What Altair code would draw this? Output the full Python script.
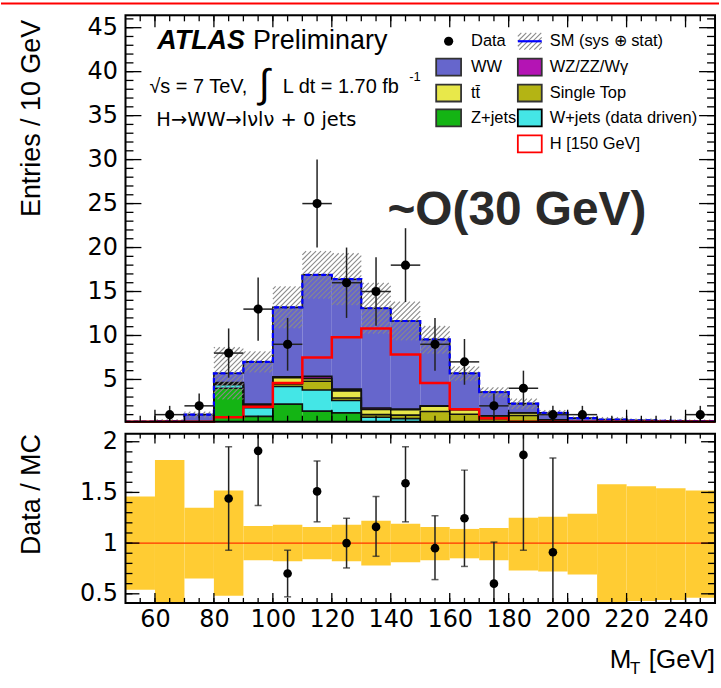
import altair as alt
import numpy as np
import pandas as pd

# ---------------- data ----------------
bin_lo = [50, 60, 70, 80, 90, 100, 110, 120, 130, 140, 150, 160, 170, 180, 190, 200, 210, 220, 230, 240]
BIN_W = 10

z_jets     = [0.00, 0.00, 0.05, 4.00, 0.80, 2.20, 1.40, 1.20, 0.10, 0.05, 0.00, 0.00, 0.00, 0.00, 0.00, 0.00, 0.00, 0.00, 0.00, 0.00]
w_jets     = [0.00, 0.00, 0.05, 0.40, 1.00, 2.00, 2.40, 1.40, 0.60, 0.50, 0.05, 0.05, 0.05, 0.00, 0.00, 0.00, 0.00, 0.00, 0.00, 0.00]
single_top = [0.00, 0.00, 0.00, 0.05, 0.10, 0.30, 1.00, 0.30, 0.30, 0.40, 1.30, 1.00, 0.50, 0.90, 0.30, 0.10, 0.00, 0.00, 0.00, 0.00]
ttbar      = [0.00, 0.00, 0.00, 0.10, 0.10, 0.70, 0.30, 0.80, 0.60, 0.60, 0.60, 0.50, 0.30, 0.30, 0.10, 0.05, 0.05, 0.02, 0.02, 0.02]
wz_zz_wg   = [0.00, 0.00, 0.02, 0.10, 0.20, 0.10, 0.25, 0.20, 0.15, 0.10, 0.05, 0.05, 0.02, 0.02, 0.02, 0.02, 0.02, 0.02, 0.02, 0.02]
ww         = [0.15, 0.25, 0.88, 1.05, 4.80, 7.90, 11.55, 12.50, 11.35, 10.00, 7.55, 4.10, 2.70, 1.03, 0.78, 0.43, 0.38, 0.31, 0.26, 0.24]
higgs      = [0.00, 0.00, 0.00, 0.70, 1.90, 4.60, 7.50, 9.80, 10.80, 7.85, 4.60, 1.60, 0.60, 0.10, 0.00, 0.00, 0.00, 0.00, 0.00, 0.00]

data_n     = [0, 1, 2, 8, 13, 9, 25, 16, 15, 18, 9, 7, 2, 4, 1, 1, 0, 0, 0, 1]
data_err   = [0, 1.0, 1.4, 2.8, 3.6, 3.0, 5.0, 4.0, 3.9, 4.2, 3.0, 2.6, 1.4, 2.0, 1.0, 1.0, 0, 0, 0, 1.0]

# relative MC uncertainty band (ratio panel)
band_hi = [1.46, 1.82, 1.35, 1.52, 1.17, 1.18, 1.16, 1.18, 1.22, 1.19, 1.16, 1.14, 1.15, 1.25, 1.26, 1.29, 1.58, 1.56, 1.54, 1.52]
band_lo = [0.54, 0.30, 0.65, 0.48, 0.83, 0.82, 0.84, 0.82, 0.78, 0.81, 0.83, 0.85, 0.83, 0.73, 0.72, 0.69, 0.41, 0.43, 0.44, 0.46]

ratio_x   = [85, 95, 105, 115, 125, 135, 145, 155, 165, 175, 185, 195]
ratio_val = [1.44, 1.91, 0.70, 1.51, 1.00, 1.16, 1.59, 0.95, 1.245, 0.60, 1.87, 0.91]
ratio_lo  = [0.93, 1.37, 0.47, 1.21, 0.755, 0.87, 1.21, 0.64, 0.77, 0.30, 0.93, 0.00]
ratio_hi  = [1.95, 2.50, 0.93, 1.81, 1.245, 1.46, 1.95, 1.27, 1.72, 1.01, 2.60, 1.84]

x_tick_labels = [60, 80, 100, 120, 140, 160, 180, 200, 220, 240]
y_tick_labels = [5, 10, 15, 20, 25, 30, 35, 40, 45]
r_tick_labels = [0.5, 1, 1.5, 2]

# ---------------- geometry / style ----------------
FONT = "Liberation Sans"
TICK_FONT = "DejaVu Sans"
W, H_TOP, H_RAT = 592, 408, 170
XDOM = [50, 250]
YDOM = [0.2, 46.4]
RDOM = [0.41, 2.08]

xs = alt.Scale(domain=XDOM, nice=False, zero=False)
ys = alt.Scale(domain=YDOM, nice=False, zero=False, clamp=True)
rs = alt.Scale(domain=RDOM, nice=False, zero=False)

comps = [
    ("Z+jets", z_jets, "#14B414"),
    ("W+jets (data driven)", w_jets, "#44E6E6"),
    ("Single Top", single_top, "#B4B414"),
    ("tt", ttbar, "#E8E84A"),
    ("WZ/ZZ/Wγ", wz_zz_wg, "#B414B4"),
    ("WW", ww, "#6666CC"),
]

# ---------------- tables ----------------
stack_rows, line_rows = [], []
cum = np.zeros(len(bin_lo))
for lvl, (name, vals, col) in enumerate(comps):
    for i, lo in enumerate(bin_lo):
        if vals[i] > 0:
            stack_rows.append(dict(x0=lo, x1=lo + BIN_W, y0=cum[i], y1=cum[i] + vals[i], comp=name))
    cum = cum + np.array(vals)
    for i, lo in enumerate(bin_lo):
        line_rows.append(dict(x=lo, y=cum[i], level=lvl))
    line_rows.append(dict(x=bin_lo[-1] + BIN_W, y=cum[-1], level=lvl))
totals = cum
stack_df = pd.DataFrame(stack_rows)
line_df = pd.DataFrame(line_rows)
total_df = line_df[line_df.level == len(comps) - 1]

h_df = pd.DataFrame(dict(x=bin_lo + [bin_lo[-1] + BIN_W], y=higgs + [higgs[-1]]))

# hatch of the SM uncertainty band, 45 degree lines in screen space
sx = W / (XDOM[1] - XDOM[0])
sy = H_TOP / (YDOM[1] - YDOM[0])
D = 5.0
hatch_rows = []
for i, lo in enumerate(bin_lo):
    ylo = max(totals[i] * band_lo[i], YDOM[0])
    yhi = min(totals[i] * band_hi[i], YDOM[1])
    if yhi <= ylo:
        continue
    X0, X1 = (lo - XDOM[0]) * sx, (lo + BIN_W - XDOM[0]) * sx
    Y0, Y1 = (ylo - YDOM[0]) * sy, (yhi - YDOM[0]) * sy
    for m in range(int(np.floor((Y0 - X1) / D)), int(np.ceil((Y1 - X0) / D)) + 1):
        k = m * D
        a, b = max(X0, Y0 - k), min(X1, Y1 - k)
        if b - a > 0.3:
            hatch_rows.append(dict(x=XDOM[0] + a / sx, y=YDOM[0] + (a + k) / sy,
                                   x2=XDOM[0] + b / sx, y2=YDOM[0] + (b + k) / sy))
hatch_df = pd.DataFrame(hatch_rows)

data_df = pd.DataFrame(dict(c=[lo + BIN_W / 2 for lo in bin_lo], l=bin_lo, r=[lo + BIN_W for lo in bin_lo],
                            n=data_n, e=data_err))
data_df = data_df[data_df.n > 0].copy()
data_df["lo"] = data_df.n - data_df.e
data_df["hi"] = data_df.n + data_df.e

band_df = pd.DataFrame(dict(x0=bin_lo, x1=[lo + BIN_W for lo in bin_lo], lo=band_lo, hi=band_hi))
ratio_df = pd.DataFrame(dict(x=ratio_x, v=ratio_val, lo=ratio_lo, hi=ratio_hi))

one = pd.DataFrame(dict(a=[0]))


# ---------------- helpers ----------------
def frame_layers(xscale, yscale, hp, xmaj, xmin, ymaj, ymin, xl, yl):
    """Inward ticks on all four sides plus the frame, drawn as rules."""
    out = []
    for vals, L in ((xmin, xl[1]), (xmaj, xl[0])):
        df = pd.DataFrame(dict(v=vals))
        xe = alt.X("v:Q", scale=xscale, axis=None)
        out.append(alt.Chart(df).mark_rule(color="black", strokeWidth=1.3).encode(
            x=xe, y=alt.value(hp), y2=alt.value(hp - L)))
        out.append(alt.Chart(df).mark_rule(color="black", strokeWidth=1.3).encode(
            x=xe, y=alt.value(0), y2=alt.value(L)))
    for vals, L in ((ymin, yl[1]), (ymaj, yl[0])):
        df = pd.DataFrame(dict(v=vals))
        ye = alt.Y("v:Q", scale=yscale, axis=None)
        out.append(alt.Chart(df).mark_rule(color="black", strokeWidth=1.3).encode(
            y=ye, x=alt.value(0), x2=alt.value(L)))
        out.append(alt.Chart(df).mark_rule(color="black", strokeWidth=1.3).encode(
            y=ye, x=alt.value(W), x2=alt.value(W - L)))
    out.append(alt.Chart(one).mark_rect(fillOpacity=0, stroke="black", strokeWidth=2).encode(
        x=alt.value(0), x2=alt.value(W), y=alt.value(0), y2=alt.value(hp)))
    return out


def px_text(df, font=FONT, **kw):
    return alt.Chart(df).mark_text(font=font, **kw).encode(
        x=alt.X("x:Q", scale=None, axis=None),
        y=alt.Y("y:Q", scale=None, axis=None),
        size=alt.Size("s:Q", scale=None, legend=None),
        text="t:N")


# ---------------- top panel ----------------
X = lambda f: alt.X(f, scale=xs, axis=None)
Y = lambda f: alt.Y(f, scale=ys, axis=None)

anchor_top = alt.Chart(one).mark_rect(color="#FF0000").encode(
    x=alt.value(-125), x2=alt.value(596), y=alt.value(-13), y2=alt.value(-11))

stack = alt.Chart(stack_df).mark_rect().encode(
    x=X("x0:Q"), x2="x1:Q", y=Y("y0:Q"), y2="y1:Q",
    color=alt.Color("comp:N", scale=alt.Scale(domain=[c[0] for c in comps], range=[c[2] for c in comps]),
                    legend=None))

outlines = alt.Chart(line_df).mark_line(interpolate="step-after", color="#111111", strokeWidth=1.6).encode(
    x=X("x:Q"), y=Y("y:Q"), detail="level:N", order="x:Q")

hatch = alt.Chart(hatch_df).mark_rule(color="#8a8a8a", strokeWidth=1.1).encode(
    x=X("x:Q"), y=Y("y:Q"), x2="x2:Q", y2="y2:Q")

total_blue = alt.Chart(total_df).mark_line(interpolate="step-after", color="#0000FF", strokeWidth=2.2,
                                           strokeDash=[5, 3]).encode(x=X("x:Q"), y=Y("y:Q"), order="x:Q")

h_line = alt.Chart(h_df).mark_line(interpolate="step-after", color="#FF0000", strokeWidth=2.5).encode(
    x=X("x:Q"), y=Y("y:Q"), order="x:Q")

err_v = alt.Chart(data_df).mark_rule(color="#222222", strokeWidth=1.5).encode(
    x=X("c:Q"), y=Y("lo:Q"), y2="hi:Q")
err_h = alt.Chart(data_df).mark_rule(color="#222222", strokeWidth=1.5).encode(
    x=X("l:Q"), x2="r:Q", y=Y("n:Q"))
pts = alt.Chart(data_df).mark_circle(color="black", opacity=1, size=85).encode(x=X("c:Q"), y=Y("n:Q"))

ann = pd.DataFrame([
    dict(x=128, y=34, t="Preliminary", s=27),
    dict(x=24, y=78, t="√s = 7 TeV,", s=20),
    dict(x=158, y=78, t="L dt = 1.70 fb", s=20),
    dict(x=285, y=66, t="-1", s=13),
])
ann_layer = px_text(ann, align="left", baseline="alphabetic", color="black")
hww = px_text(pd.DataFrame([dict(x=31, y=111, t="H→WW→lνlν + 0 jets", s=19.5)]), font="DejaVu Sans",
              align="left", baseline="alphabetic", color="black")
integral = px_text(pd.DataFrame([dict(x=134, y=82, t="∫", s=40)]), align="left", baseline="alphabetic",
                   color="black")
atlas = px_text(pd.DataFrame([dict(x=32, y=34, t="ATLAS", s=27)]), align="left", baseline="alphabetic",
                fontWeight="bold", fontStyle="italic", color="black")
big = px_text(pd.DataFrame([dict(x=263, y=211, t="~O(30 GeV)", s=48)]), align="left",
              baseline="alphabetic", fontWeight="bold", color="#2a2a2a")

# legend
C1B, C1T, C2B, C2T = (312, 337), 347, (394, 418), 426
ROWS = [26, 52, 78, 103, 129]
BH = 8.5
leg_boxes = pd.DataFrame([
    dict(x0=C1B[0], x1=C1B[1], y0=ROWS[1] - BH, y1=ROWS[1] + BH, f="#6666CC", st="#333333"),
    dict(x0=C1B[0], x1=C1B[1], y0=ROWS[2] - BH, y1=ROWS[2] + BH, f="#E8E84A", st="#333333"),
    dict(x0=C1B[0], x1=C1B[1], y0=ROWS[3] - BH, y1=ROWS[3] + BH, f="#14B414", st="#333333"),
    dict(x0=C2B[0], x1=C2B[1], y0=ROWS[1] - BH, y1=ROWS[1] + BH, f="#B414B4", st="#333333"),
    dict(x0=C2B[0], x1=C2B[1], y0=ROWS[2] - BH, y1=ROWS[2] + BH, f="#B4B414", st="#333333"),
    dict(x0=C2B[0], x1=C2B[1], y0=ROWS[3] - BH, y1=ROWS[3] + BH, f="#44E6E6", st="#000000"),
    dict(x0=C2B[0], x1=C2B[1], y0=ROWS[4] - BH, y1=ROWS[4] + BH, f="#FFFFFF", st="#FF0000"),
])
leg_box_layer = alt.Chart(leg_boxes).mark_rect(strokeWidth=1.8).encode(
    x=alt.X("x0:Q", scale=None, axis=None), x2="x1:Q",
    y=alt.Y("y0:Q", scale=None, axis=None), y2="y1:Q",
    fill=alt.Fill("f:N", scale=None), stroke=alt.Stroke("st:N", scale=None))

lh = []
bx0, bx1, by0, by1 = C2B[0], C2B[1], ROWS[0] - BH, ROWS[0] + BH
for m in range(int((bx0 + by0) // 5), int((bx1 + by1) // 5) + 2):
    c = m * 5.0
    a, b = max(bx0, c - by1), min(bx1, c - by0)
    if b - a > 0.3:
        lh.append(dict(x=a, y=c - a, x2=b, y2=c - b))
leg_hatch = alt.Chart(pd.DataFrame(lh)).mark_rule(color="#8a8a8a", strokeWidth=1.1).encode(
    x=alt.X("x:Q", scale=None, axis=None), y=alt.Y("y:Q", scale=None, axis=None), x2="x2:Q", y2="y2:Q")
leg_blue = alt.Chart(pd.DataFrame([dict(x=C2B[0], x2=C2B[1], y=ROWS[0])])).mark_rule(
    color="#0000FF", strokeWidth=2.2).encode(
    x=alt.X("x:Q", scale=None, axis=None), x2="x2:Q", y=alt.Y("y:Q", scale=None, axis=None))
leg_dot = alt.Chart(pd.DataFrame([dict(x=(C1B[0] + C1B[1]) / 2, y=ROWS[0])])).mark_circle(
    color="black", opacity=1, size=85).encode(
    x=alt.X("x:Q", scale=None, axis=None), y=alt.Y("y:Q", scale=None, axis=None))
leg_text = px_text(pd.DataFrame([
    dict(x=C1T, y=ROWS[0], t="Data", s=16.5),
    dict(x=C1T, y=ROWS[1], t="WW", s=16.5),
    dict(x=C1T, y=ROWS[2], t="tt\u0304", s=16.5),
    dict(x=C1T, y=ROWS[3], t="Z+jets", s=16.5),
    dict(x=C2T, y=ROWS[0], t="SM (sys ⊕ stat)", s=16.5),
    dict(x=C2T, y=ROWS[1], t="WZ/ZZ/Wγ", s=16.5),
    dict(x=C2T, y=ROWS[2], t="Single Top", s=16.5),
    dict(x=C2T, y=ROWS[3], t="W+jets (data driven)", s=16.5),
    dict(x=C2T, y=ROWS[4], t="H [150 GeV]", s=16.5),
]), align="left", baseline="middle", color="black")

ylab_top = alt.Chart(pd.DataFrame(dict(x=[150], y=[20]))).mark_point(opacity=0).encode(
    y=alt.Y("y:Q", scale=ys, axis=alt.Axis(
        orient="left", values=y_tick_labels, format="d", ticks=False, domain=False, grid=False,
        labelFontSize=24, labelPadding=8, labelColor="black", labelFont=TICK_FONT, labelOverlap=False,
        title="Entries / 10 GeV", titleFont=FONT, titleFontSize=27, titleFontWeight="normal",
        titleColor="black", titleAngle=270, titleAlign="right", titleBaseline="middle",
        titleX=-94, titleY=4)))

top = alt.layer(
    anchor_top, stack, outlines, hatch, total_blue, h_line, err_v, err_h, pts,
    ann_layer, hww, integral, atlas, big, leg_box_layer, leg_hatch, leg_blue, leg_dot, leg_text,
    ylab_top,
    *frame_layers(xs, ys, H_TOP, x_tick_labels, list(range(55, 250, 5)),
                  y_tick_labels, list(range(1, 47)), (12, 6), (16, 8)),
).properties(width=W, height=H_TOP).resolve_axis(x="independent", y="independent")

# ---------------- ratio panel ----------------
RX = lambda f: alt.X(f, scale=xs, axis=None)
RY = lambda f: alt.Y(f, scale=rs, axis=None)

anchor_bot = alt.Chart(one).mark_rect(color="white").encode(
    x=alt.value(-125), x2=alt.value(-124), y=alt.value(253), y2=alt.value(254))

band = alt.Chart(band_df).mark_rect(color="#FFCC33", clip=True).encode(
    x=RX("x0:Q"), x2="x1:Q", y=RY("lo:Q"), y2="hi:Q")
one_line = alt.Chart(pd.DataFrame(dict(y=[1.0]))).mark_rule(color="#FF3300", strokeWidth=1.3).encode(
    y=RY("y:Q"))
r_err = alt.Chart(ratio_df).mark_rule(color="#222222", strokeWidth=1.5, clip=True).encode(
    x=RX("x:Q"), y=RY("lo:Q"), y2="hi:Q")
r_cap_lo = alt.Chart(ratio_df).mark_tick(color="#222222", orient="horizontal", size=7, thickness=1.5,
                                         clip=True).encode(x=RX("x:Q"), y=RY("lo:Q"))
r_cap_hi = alt.Chart(ratio_df).mark_tick(color="#222222", orient="horizontal", size=7, thickness=1.5,
                                         clip=True).encode(x=RX("x:Q"), y=RY("hi:Q"))
r_pts = alt.Chart(ratio_df).mark_circle(color="black", opacity=1, size=75, clip=True).encode(
    x=RX("x:Q"), y=RY("v:Q"))

lab_bot = alt.Chart(pd.DataFrame(dict(x=[150], y=[1.0]))).mark_point(opacity=0).encode(
    x=alt.X("x:Q", scale=xs, axis=alt.Axis(
        orient="bottom", values=x_tick_labels, format="d", ticks=False, domain=False, grid=False,
        labelFontSize=24, labelPadding=5, labelColor="black", labelFont=TICK_FONT, labelOverlap=False,
        title=None)),
    y=alt.Y("y:Q", scale=rs, axis=alt.Axis(
        orient="left", values=r_tick_labels, format="~g", ticks=False, domain=False, grid=False,
        labelFontSize=24, labelPadding=8, labelColor="black", labelFont=TICK_FONT, labelOverlap=False,
        title="Data / MC", titleFont=FONT, titleFontSize=27, titleFontWeight="normal",
        titleColor="black", titleAngle=270, titleAlign="right", titleBaseline="middle",
        titleX=-94, titleY=0)))

xtitle = px_text(pd.DataFrame([
    dict(x=592, y=235, t="[GeV]", s=26),
    dict(x=517, y=241, t="T", s=17),
    dict(x=508, y=235, t="M", s=26),
]), align="right", baseline="alphabetic", color="black")

ratio = alt.layer(
    anchor_bot, band, one_line, r_err, r_cap_lo, r_cap_hi, r_pts, lab_bot, xtitle,
    *frame_layers(xs, rs, H_RAT, x_tick_labels, list(range(55, 250, 5)),
                  r_tick_labels, [round(0.5 + 0.1 * i, 1) for i in range(16)], (10, 5), (14, 7)),
).properties(width=W, height=H_RAT).resolve_axis(x="independent", y="independent")

chart = alt.vconcat(top, ratio, spacing=12, bounds="flush").properties(
    padding={"left": 0, "top": 0, "right": 0, "bottom": 0}
).configure_view(stroke=None).configure(font=FONT, background="white")

chart.save("out.html", embed_options={"renderer": "svg", "actions": False})
